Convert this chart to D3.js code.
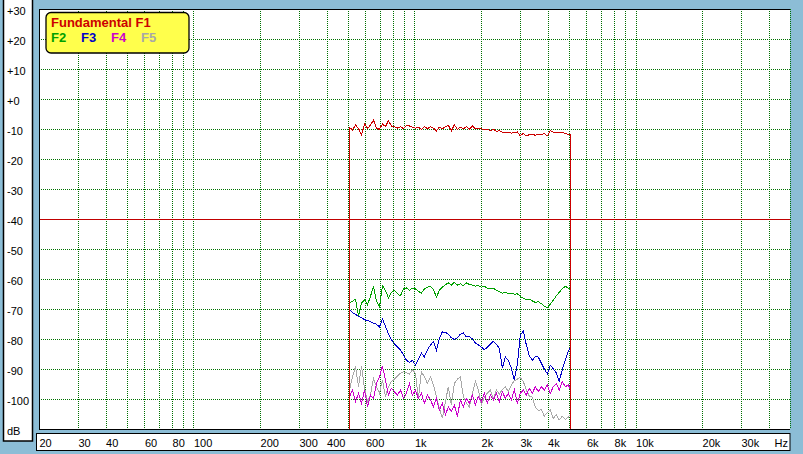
<!DOCTYPE html>
<html>
<head>
<meta charset="utf-8">
<script src="https://cdn.jsdelivr.net/npm/d3@7"></script>
<style>
  html, body { margin: 0; padding: 0; background: #8cbdd6; }
  svg { display: block; }
</style>
</head>
<body>
<svg id="chart" width="803" height="454"></svg>
<script>
// sweep frequencies (Hz); first and last are repeated for the drop to the floor
const freqs = [508, 508, 524, 541, 558, 576, 594, 613, 632, 652, 673, 694, 716, 739, 762, 786, 812, 837, 864, 891, 919, 949, 978,
  1010, 1041, 1075, 1108, 1144, 1181, 1218, 1257, 1296, 1337, 1380, 1423, 1468, 1515, 1564, 1612, 1664, 1717, 1771, 1828, 1886, 1945,
  2007, 2071, 2136, 2204, 2274, 2346, 2420, 2497, 2577, 2658, 2742, 2830, 2919, 3011, 3107, 3205, 3307, 3413, 3520, 3632, 3747, 3866,
  3989, 4116, 4246, 4381, 4519, 4662, 4811, 4963, 5080, 5080];

const f1 = [-112, -9.5, -10.3, -8.7, -9.8, -12.0, -8.3, -9.8, -8.7, -7.0, -9.8, -10.1, -8.3, -9.2, -7.2, -9.0, -9.2, -9.7, -9.2, -9.9,
  -8.8, -9.0, -9.4, -9.7, -9.4, -10.1, -9.2, -9.9, -9.2, -9.7, -10.6, -9.4, -9.9, -9.2, -8.8, -10.6, -8.6, -10.1, -9.4, -9.9, -9.2,
  -10.1, -9.0, -9.9, -9.7, -9.9, -10.3, -10.1, -10.6, -10.1, -10.8, -10.6, -11.0, -11.2, -11.0, -11.4, -11.2, -11.0, -12.3, -11.4,
  -12.3, -11.9, -11.7, -12.1, -11.7, -11.9, -11.4, -12.3, -10.6, -11.0, -11.2, -11.0, -11.2, -11.4, -11.9, -11.8, -112];

const f2 = [-112, -68.0, -67.4, -66.7, -72.4, -68.0, -66.9, -68.6, -65.8, -62.4, -67.4, -69.3, -62.2, -63.8, -66.3, -64.4, -63.8,
  -64.9, -65.6, -63.3, -63.0, -63.8, -63.0, -63.3, -64.1, -64.7, -63.3, -62.7, -62.4, -63.6, -66.0, -63.8, -62.7, -61.9, -61.3,
  -62.0, -61.1, -62.0, -61.6, -62.2, -61.3, -61.8, -62.0, -62.4, -62.2, -62.7, -62.4, -63.1, -63.3, -63.1, -63.8, -64.2, -64.7,
  -64.4, -64.9, -64.7, -65.1, -64.9, -65.8, -66.4, -66.9, -66.7, -67.3, -67.8, -67.6, -68.2, -69.1, -69.6, -68.4, -67.1, -65.6,
  -64.4, -63.3, -62.4, -63.0, -63.6, -112];

const f3 = [-112, -70.0, -71.3, -71.8, -72.4, -72.9, -73.6, -73.8, -74.2, -74.7, -75.1, -76.0, -73.3, -75.8, -78.2, -80.2, -81.6,
  -82.7, -83.6, -85.3, -87.1, -87.8, -87.1, -88.6, -86.9, -84.7, -86.0, -83.6, -82.0, -80.8, -83.8, -79.7, -77.6, -77.8, -78.4,
  -79.6, -80.2, -79.6, -78.4, -78.0, -79.3, -79.1, -80.0, -81.3, -82.0, -82.7, -83.6, -82.7, -81.8, -80.7, -81.8, -83.1, -89.7,
  -86.0, -87.1, -89.7, -93.6, -88.6, -78.6, -77.4, -81.9, -85.6, -87.1, -85.8, -86.0, -88.0, -90.0, -91.6, -88.7, -90.0, -91.3,
  -94.1, -90.2, -86.9, -84.1, -82.7, -112];

const f4 = [-112, -99.2, -97.0, -100.9, -98.1, -101.4, -97.0, -102.6, -98.7, -99.8, -94.8, -92.6, -89.0, -93.7, -98.7, -96.4,
  -97.6, -98.7, -97.0, -99.8, -98.1, -94.8, -98.7, -97.0, -99.8, -98.1, -101.4, -98.7, -100.3, -102.6, -99.8, -103.7, -101.4,
  -105.3, -102.6, -104.2, -102.0, -105.9, -100.3, -102.6, -99.8, -101.4, -98.7, -102.0, -99.2, -100.9, -98.1, -101.4, -98.7,
  -100.3, -98.1, -100.9, -97.6, -99.8, -98.1, -100.3, -97.0, -101.4, -98.1, -97.0, -98.7, -96.4, -98.1, -95.9, -97.6, -95.9,
  -97.0, -95.3, -98.1, -95.9, -94.8, -97.0, -94.2, -95.9, -95.3, -97.0, -112];

const f5 = [-112, -97.0, -92.6, -89.2, -95.9, -89.0, -96.4, -100.9, -98.7, -93.1, -95.9, -98.1, -93.7, -99.2, -95.9, -94.2, -93.4,
  -92.3, -91.4, -90.9, -91.2, -91.7, -90.3, -91.4, -99.8, -90.9, -92.6, -94.8, -92.6, -95.3, -99.2, -103.1, -106.4, -100.9, -95.9,
  -102.0, -94.8, -93.4, -92.6, -99.2, -101.4, -102.6, -98.1, -94.2, -97.0, -102.0, -99.2, -98.1, -97.0, -100.1, -97.0, -98.3,
  -96.8, -95.9, -97.6, -95.3, -93.9, -93.4, -92.8, -94.2, -97.0, -99.0, -99.4, -102.6, -103.9, -103.4, -105.7, -104.6, -103.7,
  -106.4, -105.3, -107.0, -105.7, -106.8, -106.1, -105.0, -112];

const seriesValues = [f1, f2, f3, f4, f5];
const seriesNames = ["Fundamental F1", "F2", "F3", "F4", "F5"];
const seriesColors = ["#cc0000", "#00a000", "#0000c8", "#cc00cc", "#a8a8a8"];
// order the traces are painted in (last one on top)
const drawOrder = [4, 3, 2, 1, 0];

const gridFreqs = [30, 40, 50, 60, 70, 80, 90, 100, 200, 300, 400, 500, 600, 700, 800, 900, 1000,
  2000, 3000, 4000, 5000, 6000, 7000, 8000, 9000, 10000, 20000, 30000, 40000, 50000];
const xTickValues = [20, 30, 40, 60, 80, 100, 200, 300, 400, 600, 1000, 2000, 3000, 4000, 6000, 8000, 10000, 20000, 30000];
const xTickLabels = ["20", "30", "40", "60", "80", "100", "200", "300", "400", "600", "1k", "2k", "3k", "4k", "6k", "8k", "10k", "20k", "30k"];
const yTickValues = [30, 20, 10, 0, -10, -20, -30, -40, -50, -60, -70, -80, -90, -100, -110];
const yTickLabels = ["+30", "+20", "+10", "+0", "-10", "-20", "-30", "-40", "-50", "-60", "-70", "-80", "-90", "-100", "dB"];
const refLevel = -40;

const svg = d3.select("#chart");
const font = "'Liberation Sans', Arial, sans-serif";
const plot = {left: 39, right: 790, top: 9, bottom: 429};

const x = d3.scaleLog().domain([20, 50000]).range([plot.left, plot.right]);
const y = d3.scaleLinear().domain([-110, 30]).range([plot.bottom, plot.top]);
const px = v => Math.round(v) + 0.5;

svg.append("rect").attr("width", 803).attr("height", 454).attr("fill", "#8cbdd6");

// dB label panel
svg.append("rect")
    .attr("x", 3.5).attr("y", -2).attr("width", 29).attr("height", 443)
    .attr("fill", "white").attr("stroke", "black").attr("stroke-width", 1.5);

// frequency label panel
svg.append("rect")
    .attr("x", 36.5).attr("y", 433.5).attr("width", 753.5).attr("height", 17)
    .attr("fill", "white").attr("stroke", "black");

// plot area
svg.append("rect")
    .attr("x", plot.left).attr("y", plot.top)
    .attr("width", plot.right - plot.left).attr("height", plot.bottom - plot.top)
    .attr("fill", "white");

const grid = svg.append("g").attr("shape-rendering", "crispEdges");

grid.selectAll(".vgrid")
    .data(gridFreqs)
    .enter()
    .append("line")
    .attr("x1", d => px(x(d))).attr("x2", d => px(x(d)))
    .attr("y1", plot.top).attr("y2", plot.bottom)
    .attr("stroke", "#007000")
    .attr("stroke-dasharray", "1,1");

grid.selectAll(".hgrid")
    .data(yTickValues.filter(d => d < 30 && d > -110 && d !== refLevel))
    .enter()
    .append("line")
    .attr("x1", plot.left).attr("x2", plot.right)
    .attr("y1", d => px(y(d))).attr("y2", d => px(y(d)))
    .attr("stroke", "#007000")
    .attr("stroke-dasharray", "1,1");

// reference level
grid.append("line")
    .attr("x1", plot.left).attr("x2", plot.right)
    .attr("y1", px(y(refLevel))).attr("y2", px(y(refLevel)))
    .attr("stroke", "#c00000");

// traces
svg.append("clipPath").attr("id", "clip")
    .append("rect")
    .attr("x", plot.left).attr("y", plot.top)
    .attr("width", plot.right - plot.left).attr("height", plot.bottom - plot.top);

const line = d3.line()
    .x(d => x(d[0]))
    .y(d => y(d[1]));

const traces = svg.append("g").attr("clip-path", "url(#clip)");
drawOrder.forEach(i => {
    traces.append("path")
        .datum(freqs.map((f, j) => [f, seriesValues[i][j]]))
        .attr("d", line)
        .attr("fill", "none")
        .attr("stroke", seriesColors[i])
        .attr("stroke-width", 1)
        .attr("shape-rendering", "crispEdges");
});

// plot frame
const frame = svg.append("g").attr("shape-rendering", "crispEdges").attr("stroke", "black");
frame.append("line").attr("x1", plot.left).attr("x2", plot.right).attr("y1", plot.top + 0.5).attr("y2", plot.top + 0.5);
frame.append("line").attr("x1", plot.left + 0.5).attr("x2", plot.left + 0.5).attr("y1", plot.top).attr("y2", plot.bottom);
frame.append("line").attr("x1", plot.left).attr("x2", plot.right).attr("y1", plot.bottom + 0.5).attr("y2", plot.bottom + 0.5);

// x axis labels
const xAxis = svg.append("g")
    .attr("transform", "translate(0,434)")
    .call(d3.axisBottom(x).tickValues(xTickValues).tickFormat((d, i) => xTickLabels[i]).tickSize(0))
    .attr("font-family", font)
    .attr("font-size", 11);
xAxis.select(".domain").remove();
xAxis.selectAll("text")
    .attr("y", 12.5).attr("dy", null).attr("x", 0)
    .attr("fill", "black")
    .style("text-anchor", "start");

svg.append("text")
    .attr("x", 788).attr("y", 446.5)
    .attr("text-anchor", "end")
    .attr("font-family", font).attr("font-size", 11)
    .text("Hz");

// y axis labels
const yAxis = svg.append("g")
    .attr("transform", "translate(7,0)")
    .call(d3.axisLeft(y).tickValues(yTickValues).tickFormat((d, i) => yTickLabels[i]).tickSize(0))
    .attr("font-family", font)
    .attr("font-size", 11);
yAxis.select(".domain").remove();
yAxis.selectAll("text")
    .attr("x", 0).attr("dy", 5)
    .attr("fill", "black")
    .style("text-anchor", "start");

// legend
svg.append("rect")
    .attr("x", 46).attr("y", 12.5).attr("width", 143).attr("height", 40.5)
    .attr("rx", 5).attr("ry", 5)
    .attr("fill", "#ffff4c").attr("stroke", "black").attr("stroke-width", 1.3);

svg.append("text")
    .attr("x", 51).attr("y", 26.5)
    .attr("font-family", font).attr("font-size", 13).attr("font-weight", "bold")
    .attr("fill", seriesColors[0])
    .text(seriesNames[0]);

svg.selectAll(".legend-h")
    .data(seriesNames.slice(1))
    .enter()
    .append("text")
    .attr("x", (d, i) => 51 + i * 30)
    .attr("y", 41.5)
    .attr("font-family", font).attr("font-size", 13).attr("font-weight", "bold")
    .attr("fill", (d, i) => seriesColors[i + 1])
    .text(d => d);
</script>
</body>
</html>
